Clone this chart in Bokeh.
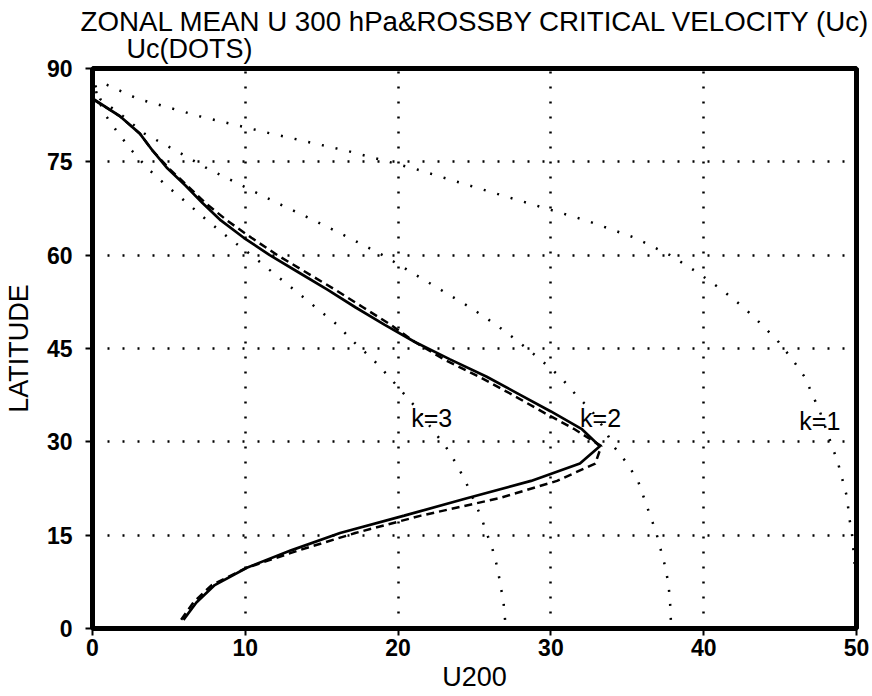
from bokeh.plotting import figure
from bokeh.models import FixedTicker, Range1d, ColumnDataSource, Title
from bokeh.core.properties import value
from bokeh.embed import file_html
from bokeh.resources import INLINE

# Gaussian latitudes (deg N)
lat = [1.395, 4.185, 6.977, 9.767, 12.558, 15.348, 18.139, 20.930, 23.721, 26.512,
       29.302, 32.093, 34.884, 37.675, 40.466, 43.256, 46.047, 48.838, 51.629, 54.420,
       57.210, 60.001, 62.792, 65.583, 68.373, 71.164, 73.955, 76.745, 79.536, 82.327,
       85.097, 87.864]

# zonal mean wind (solid) and second wind profile (dashed), m/s
u_solid = [5.95, 6.8, 8.0, 10.1, 13.0, 16.2, 20.4, 24.5, 28.7, 31.9,
           33.2, 32.0, 30.0, 27.9, 25.8, 23.4, 21.1, 19.1, 17.2, 15.4,
           13.5, 11.6, 9.9, 8.4, 7.2, 6.1, 4.9, 3.95, 3.1, 1.8,
           0.05, -1.0]
u_dash = [5.8, 6.6, 7.8, 10.1, 13.5, 17.2, 21.5, 26.6, 30.4, 32.9,
          33.3, 31.5, 29.4, 27.4, 25.3, 23.0, 21.1, 19.5, 17.7, 15.9,
          14.0, 12.1, 10.4, 8.8, 7.4, 6.2, 5.0, 3.95, 3.1, 1.8,
          0.0, -1.0]

# Rossby critical velocity for zonal wavenumbers 1, 2, 3 (dotted)
uc_k1 = [50.1, 50.1, 50.0, 49.9, 49.8, 49.7, 49.5, 49.4, 49.1, 48.8,
         48.4, 48.0, 47.6, 47.1, 46.6, 45.8, 44.9, 43.8, 42.6, 41.2,
         39.6, 37.8, 35.5, 32.3, 28.5, 24.7, 21.0, 16.7, 11.7, 7.0,
         3.0, 0.5]
uc_k2 = [37.85, 37.8, 37.7, 37.5, 37.2, 36.9, 36.5, 36.1, 35.7, 35.0,
         34.1, 33.5, 32.7, 31.6, 30.6, 29.3, 27.9, 26.4, 24.7, 22.8,
         20.9, 19.0, 16.8, 14.5, 12.1, 9.8, 7.5, 5.5, 3.4, 2.0,
         0.5, 0.1]
uc_k3 = [27.0, 26.9, 26.7, 26.5, 26.2, 25.8, 25.4, 24.9, 24.4, 23.8,
         23.1, 22.2, 21.4, 20.4, 19.4, 18.35, 17.1, 16.0, 14.6, 13.2,
         11.8, 10.4, 8.9, 7.5, 6.2, 4.85, 3.6, 2.6, 1.7, 0.9,
         0.35, 0.1]

k_labels = ["k=1", "k=2", "k=3"]
k_label_u = [47.6, 33.25, 22.2]
k_label_lat = [33.4, 33.9, 33.9]

x_ticks = [0, 10, 20, 30, 40, 50]
y_ticks = [0, 15, 30, 45, 60, 75, 90]

title_text = "ZONAL MEAN U 300 hPa&ROSSBY CRITICAL VELOCITY (Uc)"
subtitle_text = "Uc(DOTS)"
x_label = "U200"
y_label = "LATITUDE"

FONT = "Liberation Sans"

p = figure(width=870, height=696, x_range=Range1d(0, 50), y_range=Range1d(0, 90),
           output_backend="svg", toolbar_location=None,
           min_border_left=92, min_border_right=14, min_border_top=68, min_border_bottom=68)
p.background_fill_color = "white"
p.border_fill_color = "white"
p.outline_line_color = "black"
p.outline_line_width = 5

for ax, ticks in ((p.xaxis, x_ticks), (p.yaxis, y_ticks)):
    ax.ticker = FixedTicker(ticks=ticks)
    ax.axis_line_color = None
    ax.major_tick_out = 7
    ax.major_tick_in = 0
    ax.major_tick_line_width = 2
    ax.major_tick_line_color = "black"
    ax.minor_tick_line_color = None
    ax.major_label_text_font = FONT
    ax.major_label_text_font_style = "bold"
    ax.major_label_text_font_size = "23px"
    ax.major_label_text_color = "black"
    ax.axis_label_text_font = FONT
    ax.axis_label_text_font_style = "normal"
    ax.axis_label_text_font_size = "27px"
    ax.axis_label_text_color = "black"
p.xaxis.major_label_standoff = 3
p.yaxis.major_label_standoff = 13
p.xaxis.axis_label = x_label
p.yaxis.axis_label = y_label
p.xaxis.axis_label_standoff = 3
p.yaxis.axis_label_standoff = 10

for g in (p.xgrid, p.ygrid):
    g.grid_line_color = "black"
    g.grid_line_width = 2.5
    g.grid_line_dash = "2 13"

dot_style = dict(line_color="black", line_width=2.5, line_dash="2 12")
p.line(uc_k1, lat, **dot_style)
p.line(uc_k2, lat, **dot_style)
p.line(uc_k3, lat, **dot_style)
p.line(u_dash, lat, line_color="black", line_width=2.5, line_dash="8 5")
p.line(u_solid, lat, line_color="black", line_width=2.7)

src = ColumnDataSource(dict(x=k_label_u, y=k_label_lat, t=k_labels))
p.text(x="x", y="y", text="t", source=src, text_font=value(FONT), text_font_size="25px",
       text_align="center", text_baseline="middle", text_color="black")

p.title.text = ""
p.add_layout(Title(text=subtitle_text, align="left", offset=34, standoff=10,
                   text_font=FONT, text_font_size="27px", text_font_style="normal",
                   text_color="black"), "above")
p.add_layout(Title(text=title_text, align="left", offset=-12, standoff=-20,
                   text_font=FONT, text_font_size="27.7px", text_font_style="normal",
                   text_color="black"), "above")

open("out.html", "w").write(file_html(p, INLINE))
